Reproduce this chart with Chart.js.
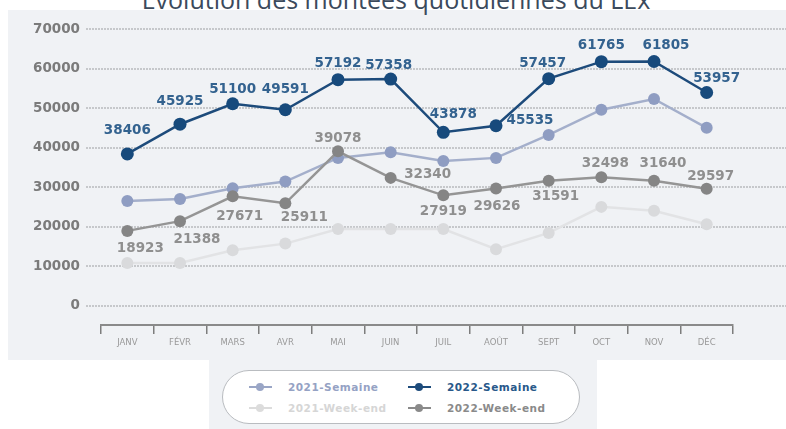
<!DOCTYPE html>
<html>
<head>
<meta charset="utf-8">
<script src="https://cdn.jsdelivr.net/npm/chart.js@4"></script>
<style>
  body { margin: 0; width: 786px; height: 429px; background: #fff; overflow: hidden; position: relative; font-family: "DejaVu Sans", sans-serif; }
  #bg { position: absolute; left: 8px; top: 10px; width: 778px; height: 350px; background: #f0f2f5; }
  #legendBg { position: absolute; left: 209px; top: 359px; width: 388px; height: 70px; background: #f0f2f5; }
  #title { position: absolute; left: 0; width: 792px; top: -18px; line-height: 25px; text-align: center; font: 25px "Open Sans", sans-serif; color: #3b4a5c; white-space: nowrap; }
  #wrap { position: absolute; left: 0; top: 0; width: 786px; height: 360px; }
  #legend { position: absolute; left: 222px; top: 370px; width: 358px; height: 54px; background: #fff; border: 1.5px solid #b9bcc0; border-radius: 28px; box-sizing: border-box; }
  .item { position: absolute; height: 14px; font: bold 10.5px "DejaVu Sans", sans-serif; letter-spacing: 0.5px; line-height: 14px; white-space: nowrap; }
  .item i { position: absolute; left: 0; top: 6px; width: 23px; height: 2px; }
  .item b { position: absolute; left: 7px; top: 3px; width: 8px; height: 8px; border-radius: 50%; }
  .item span { position: absolute; left: 39px; top: 0; }
</style>
</head>
<body>
<div id="bg"></div>
<div id="legendBg"></div>
<div id="title">Évolution des montées quotidiennes du LEx</div>
<div id="wrap"><canvas id="chart"></canvas></div>
<div id="legend"></div>
<script>
const months = ['JANV', 'FÉVR', 'MARS', 'AVR', 'MAI', 'JUIN', 'JUIL', 'AOÛT', 'SEPT', 'OCT', 'NOV', 'DÉC'];
const yTicks = [0, 10000, 20000, 30000, 40000, 50000, 60000, 70000];

const semaine2022 = [38406, 45925, 51100, 49591, 57192, 57358, 43878, 45535, 57457, 61765, 61805, 53957];
const weekend2022 = [18923, 21388, 27671, 25911, 39078, 32340, 27919, 29626, 31591, 32498, 31640, 29597];
const semaine2021 = [26500, 27000, 29700, 31400, 37400, 38800, 36600, 37400, 43200, 49600, 52300, 45000];
const weekend2021 = [10800, 10800, 14000, 15700, 19400, 19400, 19400, 14300, 18400, 25000, 24000, 20600];

// label offsets from the point (px), picked by eye
const offSemaine2022 = [[0, -23], [0, -23], [0, -14], [0, -20], [0, -16], [-2, -14], [10, -18], [34, -5], [-6, -15], [0, -16], [12, -16], [10, -14]];
const offWeekend2022 = [[13, 18], [17, 18], [7, 20], [19, 14], [0, -13], [37, -3], [0, 16], [1, 18], [7, 16], [4, -14], [9, -17], [4, -12]];

const datasets = [
  { label: '2022-Semaine', data: semaine2022, borderColor: '#1d4b7b', backgroundColor: '#174a7c', pointRadius: 6.5,
    borderWidth: 2.5, labelColor: '#33628f', offsets: offSemaine2022, legendColor: '#1d4b7b', legendText: '#28588a' },
  { label: '2022-Week-end', data: weekend2022, borderColor: '#959595', backgroundColor: '#858585', pointRadius: 6,
    borderWidth: 2.5, labelColor: '#8f8f8f', offsets: offWeekend2022, legendColor: '#8a8a8a', legendText: '#8a8a8a' },
  { label: '2021-Semaine', data: semaine2021, borderColor: '#a4afcb', backgroundColor: '#8f9dc2', pointRadius: 6,
    borderWidth: 2.5, legendColor: '#9aa6c6', legendText: '#95a2c4' },
  { label: '2021-Week-end', data: weekend2021, borderColor: '#e2e3e5', backgroundColor: '#d9dadc', pointRadius: 6,
    borderWidth: 2.5, legendColor: '#dcdcdc', legendText: '#d6d6d6' }
];
datasets.forEach(d => { d.pointBorderWidth = 0; d.pointHoverRadius = d.pointRadius; d.tension = 0; });

const gridPlugin = {
  id: 'longGrid',
  beforeDatasetsDraw(chart) {
    const ctx = chart.ctx, y = chart.scales.y;
    ctx.save();
    ctx.strokeStyle = '#c6c8cb';
    ctx.lineWidth = 2;
    ctx.setLineDash([2, 1]);
    for (const v of yTicks) {
      const py = Math.round(y.getPixelForValue(v));
      ctx.beginPath();
      ctx.moveTo(86, py);
      ctx.lineTo(786, py);
      ctx.stroke();
    }
    ctx.restore();
  }
};

const labelPlugin = {
  id: 'pointLabels',
  afterDatasetsDraw(chart) {
    const ctx = chart.ctx;
    ctx.save();
    ctx.font = 'bold 13.5px "DejaVu Sans"';
    ctx.textAlign = 'center';
    ctx.textBaseline = 'middle';
    chart.data.datasets.forEach((ds, i) => {
      if (!ds.offsets) return;
      const meta = chart.getDatasetMeta(i);
      ctx.fillStyle = ds.labelColor;
      meta.data.forEach((pt, j) => {
        const [dx, dy] = ds.offsets[j];
        ctx.fillText(String(ds.data[j]), pt.x + dx, pt.y + dy);
      });
    });
    ctx.restore();
  }
};

const chart = new Chart(document.getElementById('chart'), {
  type: 'line',
  data: { labels: months, datasets },
  options: {
    responsive: true,
    maintainAspectRatio: false,
    animation: false,
    events: [],
    layout: { padding: { top: 20, right: 53, left: 0, bottom: 0 } },
    plugins: { legend: { display: false }, tooltip: { enabled: false } },
    scales: {
      x: {
        offset: true,
        grid: { display: true, drawOnChartArea: false, drawTicks: true, tickLength: 9, color: '#7d7d7d', lineWidth: 1.5, offset: true },
        border: { display: true, color: '#8a8a8a', width: 2 },
        ticks: { color: '#999999', font: { family: 'DejaVu Sans', size: 8.5 }, padding: 4, maxRotation: 0, autoSkip: false },
        afterFit: s => { s.height = 35; }
      },
      y: {
        min: -4900,
        max: 70000,
        grid: { display: false, drawTicks: false },
        border: { display: false },
        ticks: { color: '#7b7b7b', font: { family: 'DejaVu Sans', size: 13.5, weight: 'bold' }, padding: 21,
          callback: v => String(v) },
        afterBuildTicks: s => { s.ticks = yTicks.map(v => ({ value: v })); },
        afterFit: s => { s.width = 101; }
      }
    }
  },
  plugins: [gridPlugin, labelPlugin]
});

// legend laid out 2x2 like the original pill
const legend = document.getElementById('legend');
const slots = { '2021-Semaine': [26, 9], '2022-Semaine': [185, 9], '2021-Week-end': [26, 30], '2022-Week-end': [185, 30] };
chart.data.datasets.forEach(ds => {
  const [x, y] = slots[ds.label];
  const el = document.createElement('div');
  el.className = 'item';
  el.style.left = x + 'px';
  el.style.top = y + 'px';
  el.innerHTML = `<i style="background:${ds.legendColor}"></i><b style="background:${ds.legendColor}"></b><span style="color:${ds.legendText}">${ds.label}</span>`;
  legend.appendChild(el);
});
</script>
</body>
</html>
